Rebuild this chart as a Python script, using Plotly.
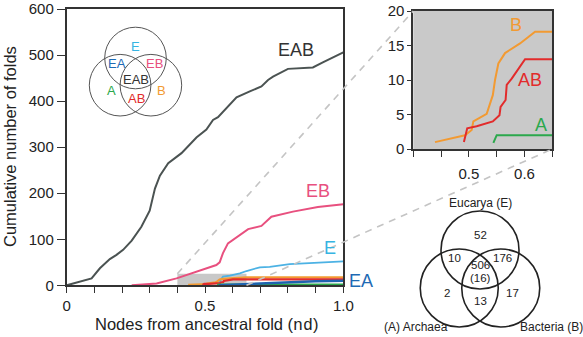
import plotly.graph_objects as go

W, H = 583, 337
FONT = "Liberation Sans, Arial, sans-serif"

# ---- cumulative number of folds vs. nodes from ancestral fold (nd) ----
eab_x = [0, 0.09, 0.12, 0.156, 0.18, 0.204, 0.235, 0.27, 0.30, 0.319, 0.337, 0.367,
         0.415, 0.469, 0.505, 0.529, 0.547, 0.58, 0.614, 0.662, 0.704, 0.728, 0.746,
         0.80, 0.89, 0.926, 0.96, 1.0]
eab_y = [0, 15, 37, 57, 66, 77, 97, 127, 162, 210, 238, 265,
         287, 321, 338, 359, 365, 387, 408, 421, 432, 446, 453,
         470, 473, 484, 494, 506]

eb_x = [0.235, 0.325, 0.397, 0.433, 0.493, 0.541, 0.553, 0.565, 0.583, 0.626, 0.656,
        0.704, 0.74, 0.818, 0.908, 1.0]
eb_y = [0, 4, 15, 22, 33, 44, 50, 70, 91, 109, 122, 129, 149, 160, 170, 176]

e_x = [0.548, 0.555, 0.565, 0.59, 0.626, 0.65, 0.698, 0.734, 0.806, 0.915, 1.0]
e_y = [0, 10, 19, 21, 26, 31, 39, 40, 46, 50, 52]

ea_x = [0.55, 0.62, 0.70, 0.76, 0.83, 0.90, 1.0]
ea_y = [0, 2, 4, 6, 8, 9, 10]

b_x = [0.439, 0.493, 0.505, 0.508, 0.532, 0.538, 0.543, 0.547, 0.553, 0.565, 0.592,
       0.619, 0.65, 1.0]
b_y = [1, 2, 2.75, 4, 5.1, 6.6, 7.8, 10, 12.4, 13.9, 15.3, 17, 17, 17]

ab_x = [0.491, 0.497, 0.514, 0.543, 0.555, 0.557, 0.566, 0.568, 0.577, 0.586, 0.601,
        0.65, 1.0]
ab_y = [1, 3, 3.3, 4, 4.9, 6.1, 7.1, 9.3, 10.2, 11.2, 13, 13, 13]

a_x = [0.544, 0.55, 0.65, 1.0]
a_y = [0.9, 2, 2, 2]

# Venn region counts
venn_regions = ["E", "EA", "EB", "EAB", "A", "AB", "B"]
venn_counts = [52, 10, 176, 506, 2, 13, 17]
venn_core_subset = 16
domain_names = ["Eucarya (E)", "(A) Archaea", "Bacteria (B)"]

colors = {
    "EAB": "#4b5352", "EB": "#e8507f", "E": "#4cb2e4", "EA": "#1f63b0",
    "B": "#f29a32", "AB": "#e22b2b", "A": "#2ba84c",
}
label_colors = dict(colors, EAB="#333333", E="#36b4e2", EA="#1e6ab4")

# ---- subplot placement ----
MX = [66.7 / W, 343.3 / W]
MY = [1 - 285.3 / H, 1 - 9 / H]
IX = [413.3 / W, 552.3 / W]
IY = [1 - 149 / H, 1 - 11 / H]
MAIN_XR, MAIN_YR = [0, 1], [0, 600]
INS_XR, INS_YR = [0.4, 0.65], [0, 20]
ZOOM_BOX = dict(x0=0.4, x1=0.65, y0=0, y1=25)


def to_paper(x, y, dx, dy, xr, yr):
    px = dx[0] + (x - xr[0]) / (xr[1] - xr[0]) * (dx[1] - dx[0])
    py = dy[0] + (y - yr[0]) / (yr[1] - yr[0]) * (dy[1] - dy[0])
    return px, py


def px2paper(x, y):
    return x / W, 1 - y / H


fig = go.Figure()

main_series = [("EAB", eab_x, eab_y, 2), ("EB", eb_x, eb_y, 2), ("E", e_x, e_y, 1.8),
               ("B", b_x, b_y, 2.2), ("AB", ab_x, ab_y, 2.2), ("A", a_x, a_y, 2),
               ("EA", ea_x, ea_y, 2.5)]
for name, xs, ys, w in main_series:
    fig.add_trace(go.Scatter(x=xs, y=ys, mode="lines", name=name,
                             line=dict(color=colors[name], width=w),
                             xaxis="x", yaxis="y", hoverinfo="skip"))

for name, xs, ys in [("B", b_x, b_y), ("AB", ab_x, ab_y), ("A", a_x, a_y)]:
    fig.add_trace(go.Scatter(x=xs, y=ys, mode="lines", name=name + " (zoom)",
                             line=dict(color=colors[name], width=2),
                             xaxis="x2", yaxis="y2", hoverinfo="skip"))

axis_common = dict(showgrid=False, zeroline=False, showline=True, mirror=True,
                   linecolor="#333333", linewidth=1.8, ticks="outside",
                   tickcolor="#333333", tickwidth=1.4, automargin=False,
                   tickfont=dict(family=FONT, size=15, color="#222222"),
                   fixedrange=True)

xt_main = [round(i * 0.1, 1) for i in range(11)]
xt_main_txt = ["0" if v == 0 else ("0.5" if v == 0.5 else ("1.0" if v == 1 else ""))
               for v in xt_main]
xt_ins = [0.4, 0.45, 0.5, 0.55, 0.6, 0.65]
xt_ins_txt = ["", "", "0.5", "", "0.6", ""]

fig.update_layout(
    width=W, height=H, margin=dict(l=0, r=0, t=0, b=0, autoexpand=False),
    paper_bgcolor="white", plot_bgcolor="white", showlegend=False,
    xaxis=dict(axis_common, domain=MX, range=MAIN_XR, anchor="y",
               tickvals=xt_main, ticktext=xt_main_txt, ticklen=6),
    yaxis=dict(axis_common, domain=MY, range=MAIN_YR, anchor="x",
               tickvals=list(range(0, 601, 100)), ticklen=8),
    xaxis2=dict(axis_common, domain=IX, range=INS_XR, anchor="y2",
                tickvals=xt_ins, ticktext=xt_ins_txt, ticklen=6,
                ticklabelstandoff=4),
    yaxis2=dict(axis_common, domain=IY, range=INS_YR, anchor="x2",
                tickvals=[0, 5, 10, 15, 20], ticklen=4),
)

shapes = []
# grey zoom window on the main plot
shapes.append(dict(type="rect", xref="x", yref="y", layer="below",
                   fillcolor="#c8c8c8", line=dict(width=0), **ZOOM_BOX))
# grey background of the magnified panel
shapes.append(dict(type="rect", xref="x2 domain", yref="y2 domain", layer="below",
                   x0=0, x1=1, y0=0, y1=1, fillcolor="#c9c9c9", line=dict(width=0)))

# dashed connectors from the zoom window to the magnified panel
p1 = to_paper(ZOOM_BOX["x0"], ZOOM_BOX["y1"], MX, MY, MAIN_XR, MAIN_YR)
q1 = to_paper(INS_XR[0], INS_YR[1], IX, IY, INS_XR, INS_YR)
p2 = to_paper(ZOOM_BOX["x1"], ZOOM_BOX["y0"], MX, MY, MAIN_XR, MAIN_YR)
q2 = to_paper(INS_XR[1], INS_YR[0], IX, IY, INS_XR, INS_YR)
for a, b in [(p1, q1), (p2, q2)]:
    shapes.append(dict(type="line", xref="paper", yref="paper",
                       x0=a[0], y0=a[1], x1=b[0], y1=b[1],
                       line=dict(color="#c4c4c4", width=1.6, dash="7px,6px")))


def venn_centers(cx, base_y, half, up):
    return {"A": (cx - half, base_y), "B": (cx + half, base_y), "E": (cx, base_y - up)}


def add_circles(centers, r, color, width):
    for c in centers.values():
        x0, y1 = px2paper(c[0] - r, c[1] - r)
        x1, y0 = px2paper(c[0] + r, c[1] + r)
        shapes.append(dict(type="circle", xref="paper", yref="paper",
                           x0=x0, x1=x1, y0=y0, y1=y1,
                           line=dict(color=color, width=width)))


annotations = []


def add_text(text, x, y, size, color, **kw):
    px, py = px2paper(x, y)
    annotations.append(dict(text=text, x=px, y=py, xref="paper", yref="paper",
                            showarrow=False, xanchor="center", yanchor="middle",
                            font=dict(family=FONT, size=size, color=color), **kw))


# small legend Venn (upper left)
small_cx, small_base = 135.5, 85.2
add_circles(venn_centers(small_cx, small_base, 15.4, 27.2), 30.8, "#555555", 1)
small_offsets = {"E": (0, -38.5), "EA": (-19, -22), "EB": (19, -22), "EAB": (0, -6),
                 "A": (-24.5, 5), "AB": (0.5, 13), "B": (26, 5)}
for reg in venn_regions:
    dx, dy = small_offsets[reg]
    add_text(reg, small_cx + dx, small_base + dy, 13, label_colors[reg])

# count Venn (lower right)
big_cx, big_base = 480, 288
add_circles(venn_centers(big_cx, big_base, 20.75, 38), 39, "#222222", 1.6)
big_offsets = {"E": (0, -53), "EA": (-25, -30), "EB": (22, -30), "EAB": (0, -23),
               "A": (-33, 5), "AB": (0, 12.5), "B": (32, 5)}
for reg, n in zip(venn_regions, venn_counts):
    dx, dy = big_offsets[reg]
    add_text(str(n), big_cx + dx, big_base + dy, 11.5, "#222222")
add_text(f"({venn_core_subset})", big_cx, big_base - 10, 11.5, "#222222")
for name, (dx, dy) in zip(domain_names, [(0, -85), (-64, 39), (71.5, 39)]):
    add_text(name, big_cx + dx, big_base + dy, 12, "#222222")

# curve labels (main plot, data coordinates)
for reg, x, y in [("EAB", 0.829, 511), ("EB", 0.91, 205), ("E", 0.952, 80)]:
    annotations.append(dict(text=reg, x=x, y=y, xref="x", yref="y", showarrow=False,
                            font=dict(family=FONT, size=18, color=label_colors[reg])))
ea_lbl = to_paper(1.0, ea_y[-1], MX, MY, MAIN_XR, MAIN_YR)
annotations.append(dict(text="EA", x=ea_lbl[0] + 4 / W, y=ea_lbl[1], xref="paper",
                        yref="paper", xanchor="left", yanchor="middle", showarrow=False,
                        font=dict(family=FONT, size=18, color=label_colors["EA"])))

# curve labels (magnified panel)
for reg, x, y in [("B", 0.5856, 18), ("AB", 0.6095, 10), ("A", 0.6305, 3.5)]:
    annotations.append(dict(text=reg, x=x, y=y, xref="x2", yref="y2", showarrow=False,
                            font=dict(family=FONT, size=18, color=label_colors[reg])))

# axis titles
add_text('Nodes from ancestral fold (<span style="font-family:Liberation Mono">nd</span>)',
         206, 325, 16.5, "#222222")
add_text("Cumulative number of folds", 10, 147, 16.5, "#222222", textangle=-90)

fig.update_layout(shapes=shapes, annotations=annotations)
fig.write_html("out.html")
